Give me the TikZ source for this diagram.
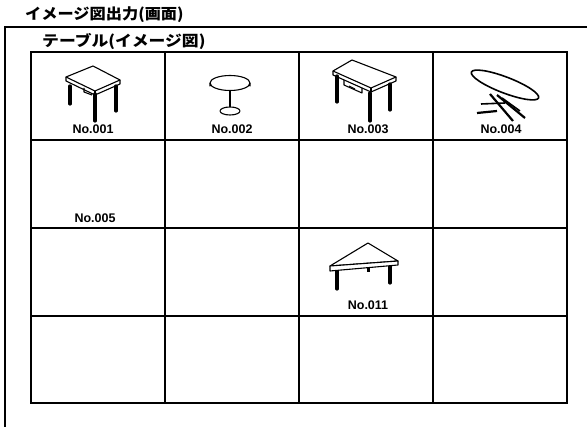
\documentclass[tikz,border=0pt]{standalone}
\usepackage{fontspec}
\setmainfont{Liberation Sans}
\newfontfamily\jp{Noto Sans CJK JP}
\begin{document}
\begin{tikzpicture}[x=1pt,y=-1pt,
  frame/.style={line width=1.8pt},
  grid/.style={line width=1.4pt},
  heading/.style={anchor=west,inner sep=0pt,font=\jp\bfseries\fontsize{15}{15}\selectfont},
  numlabel/.style={inner sep=0pt,font=\bfseries\fontsize{12.5}{12.5}\selectfont},
  ink/.style={line width=1.1pt,line join=round},
  leg/.style={line width=3.2pt,line cap=round}]
\path[use as bounding box] (0,0) rectangle (587,427);

% headings
\node[heading] (title) at (25,15) {\scalebox{1.08}[1]{イメージ図出力(画面)}};
\node[heading] (sub) at (42,41) {\scalebox{1.12}[1]{テーブル(イメージ図)}};

% outer frame: top rule and left rule
\coordinate (fTL) at (5,27);
\coordinate (fTR) at (587,27);
\coordinate (fBL) at (5,427);
\draw[frame] (fBL) -- (fTL) -- (fTR);

% 4 x 4 grid of image cells
\foreach \c/\xx in {0/31,1/165,2/299,3/433,4/567}
  \foreach \r/\yy in {0/52,1/140,2/228,3/316,4/403}
    \coordinate (g\c\r) at (\xx,\yy);
\draw[grid] (g00) rectangle (g44);
\foreach \c in {1,2,3} \draw[grid] (g\c0) -- (g\c4);
\foreach \r in {1,2,3} \draw[grid] (g0\r) -- (g4\r);

% cell labels
\node[numlabel] (n001) at (93,129) {No.001};
\node[numlabel] (n002) at (232,129) {No.002};
\node[numlabel] (n003) at (368,129) {No.003};
\node[numlabel] (n004) at (501,129) {No.004};
\node[numlabel] (n005) at (95,218) {No.005};
\node[numlabel] (n011) at (368,305) {No.011};

% No.001 : rectangular table
\draw[leg] (70,86) -- (70,104);
\draw[leg] (116,86) -- (116,111);
\draw[leg] (95,94) -- (95,121);
\draw[ink,fill=white] (66,77) -- (93,66) -- (120,80) -- (95,91) -- cycle;
\draw[ink] (66,77) -- (66,81) -- (95,95) -- (120,84) -- (120,80);
\draw[ink] (95,91) -- (95,95);
\draw[ink] (84,88) -- (84,92) -- (92,95);

% No.002 : round pedestal table
\draw[line width=2.4pt] (230,90) -- (230,108);
\draw[ink,fill=white] (230,111) ellipse [x radius=10, y radius=4];
\draw[ink,fill=white] (210,83) -- (210,86) arc[start angle=180,end angle=360,x radius=20,y radius=7.5] -- (250,83);
\draw[ink,fill=white] (230,83) ellipse [x radius=20, y radius=7.5];

% No.003 : table with drawer
\draw[leg] (337,76) -- (337,102);
\draw[leg] (390,84) -- (390,110);
\draw[leg] (370,93) -- (370,121);
\draw[ink,fill=white] (333,71) -- (352,60) -- (396,77) -- (371,88) -- cycle;
\draw[ink] (333,71) -- (333,75) -- (371,92) -- (396,81) -- (396,77);
\draw[ink] (371,88) -- (371,92);
\draw[ink] (344,80) -- (344,85) -- (362,93) -- (362,88);
\draw[ink] (349,86) -- (355,89);

% No.004 : oval folding table
\draw[line width=2.2pt] (477,113) -- (497,111);
\draw[line width=2.2pt] (490,94) -- (513,121);
\draw[line width=2.2pt] (497,95) -- (525,118);
\draw[line width=1.6pt] (481,104) -- (505,103);
\draw[line width=1.6pt] (502,98) -- (520,111);
\draw[line width=1.6pt,fill=white,rotate around={-21:(505,85)}] (505,85) ellipse [x radius=36, y radius=8];

% No.011 : triangular table
\draw[leg] (337,270) -- (337,289);
\draw[leg] (390,266) -- (390,283);
\draw[line width=3pt] (368,268) -- (368,272);
\draw[ink,fill=white] (330,266) -- (368,243) -- (398,261) -- cycle;
\draw[ink,fill=white] (330,266) -- (398,261) -- (398,265) -- (330,271) -- cycle;
\end{tikzpicture}
\end{document}
